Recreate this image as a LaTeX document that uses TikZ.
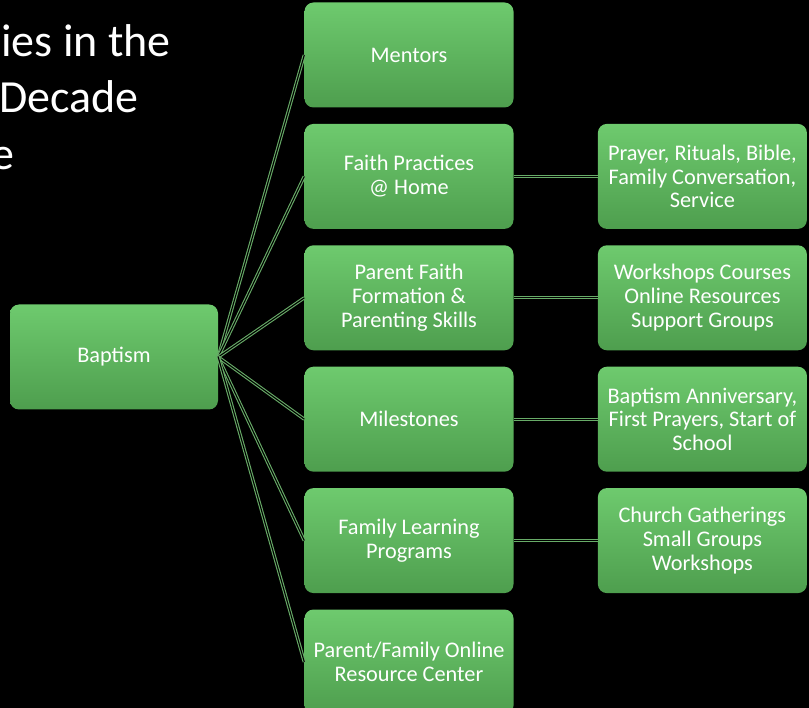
\documentclass[tikz,border=0pt]{standalone}
\usepackage{fontspec}
\setmainfont{Carlito}
\usetikzlibrary{positioning}
\definecolor{boxtop}{RGB}{110,202,110}
\definecolor{boxbottom}{RGB}{78,158,78}
\definecolor{linkgreen}{RGB}{104,172,104}
\tikzset{	node distance=16pt and 84pt,
	box/.style={
		rounded corners=9pt,
		minimum width=209pt,
		minimum height=105pt,
		top color=boxtop,
		bottom color=boxbottom,
		text=white,
		align=center,
		font=\fontsize{22.3}{23.8}\selectfont},
	link/.style={
		draw=linkgreen,
		double=black,
		double distance=1.1pt,
		line width=1.1pt},
	title/.style={
		anchor=base west,
		inner sep=0pt,
		text=white,
		font=\fontsize{46}{57}\selectfont}
}
\begin{document}
\begin{tikzpicture}
				\fill[black] (0,0) rectangle (809pt,-708pt);
				\useasboundingbox (0,0) rectangle (809pt,-708pt);
				% title, cut at the left edge
				\node[title] (t1) at (1pt,-57pt) {ies in the};
				\node[title] (t2) at (-1pt,-113pt) {Decade};
				\node[title] (t3) at (-9pt,-170pt) {e};
				% middle column
				\node[box] (mentors) at (409pt,-55pt) {Mentors};
				\node[box, below = of mentors] (faith) {Faith Practices\\@ Home};
				\node[box, below = of faith] (parent) {Parent Faith\\Formation \&\\Parenting Skills};
				\node[box, below = of parent] (milestones) {Milestones};
				\node[box, below = of milestones] (learning) {Family Learning\\Programs};
				\node[box, below = of learning] (online) {Parent/Family Online\\Resource Center};
				% right column
				\node[box, right = of faith] (prayer) {Prayer, Rituals, Bible,\\Family Conversation,\\Service};
				\node[box, right = of parent] (workshops) {Workshops Courses\\Online Resources\\Support Groups};
				\node[box, right = of milestones] (anniversary) {Baptism Anniversary,\\First Prayers, Start of\\School};
				\node[box, right = of learning] (gatherings) {Church Gatherings\\Small Groups\\Workshops};
				% root
				\node[box, minimum width=208pt] (baptism) at (114pt,-357pt) {Baptism};
				\foreach \n in {mentors, faith, parent, milestones, learning, online}
					\draw[link] (baptism.east) -- (\n.west);
				\draw[link] (faith) -- (prayer);
				\draw[link] (parent) -- (workshops);
				\draw[link] (milestones) -- (anniversary);
				\draw[link] (learning) -- (gatherings);
			\end{tikzpicture}
\end{document}
